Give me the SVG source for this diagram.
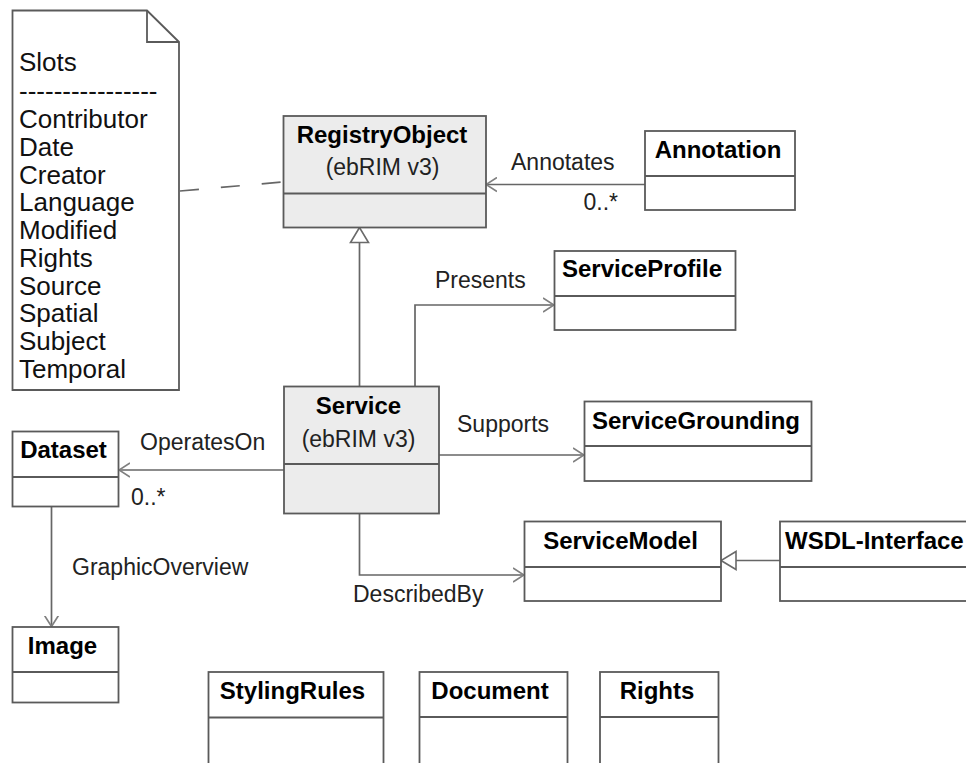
<svg xmlns="http://www.w3.org/2000/svg" width="966" height="763" viewBox="0 0 966 763">
<style>
.box{fill:#ffffff;stroke:#5a5a5a;stroke-width:1.8}
.gray{fill:#ececec}
.div{stroke:#5a5a5a;stroke-width:1.8}
.title{font-family:"Liberation Sans",Arial,sans-serif;font-weight:bold;font-size:24px;fill:#000;text-anchor:middle}
.sub{font-family:"Liberation Sans",Arial,sans-serif;font-size:23px;fill:#222;text-anchor:middle}
.lbl{font-family:"Liberation Sans",Arial,sans-serif;font-size:23px;fill:#222}
.note{font-family:"Liberation Sans",Arial,sans-serif;font-size:26px;fill:#111}
.conn{fill:none;stroke:#666;stroke-width:1.7}
</style>
<defs>
<marker id="open" markerUnits="userSpaceOnUse" viewBox="0 0 12 16" refX="11" refY="8" markerWidth="12" markerHeight="16" orient="auto">
<path d="M0,1 L11,8 L0,15" fill="none" stroke="#808080" stroke-width="1.7"/>
</marker>
<marker id="tri" markerUnits="userSpaceOnUse" viewBox="0 0 17 21" refX="16" refY="10.5" markerWidth="17" markerHeight="21" orient="auto">
<path d="M16,10.5 L1,1.5 L1,19.5 Z" fill="#ffffff" stroke="#6a6a6a" stroke-width="1.6"/>
</marker>
</defs>
<rect x="0" y="0" width="966" height="763" fill="#ffffff"/>

<g id="note-slots">
<path class="box" d="M12.5,10.5 L147,10.5 L179,42 L179,390 L12.5,390 Z"/>
<path d="M147,10.5 L147,42 L179,42" fill="none" stroke="#5a5a5a" stroke-width="1.8"/>
<text class="note" x="19" y="71">Slots</text>
<text class="note" x="19" y="99.5">----------------</text>
<text class="note" x="19" y="128">Contributor</text>
<text class="note" x="19" y="156">Date</text>
<text class="note" x="19" y="183.5">Creator</text>
<text class="note" x="19" y="211">Language</text>
<text class="note" x="19" y="239">Modified</text>
<text class="note" x="19" y="267">Rights</text>
<text class="note" x="19" y="294.5">Source</text>
<text class="note" x="19" y="322">Spatial</text>
<text class="note" x="19" y="350">Subject</text>
<text class="note" x="19" y="378">Temporal</text>
</g>

<g id="connectors">
<path class="conn" d="M180,191 L283,182" stroke="#888" stroke-dasharray="19 22"/>
<path class="conn" d="M645,184.5 L486,184.5" marker-end="url(#open)"/>
<path class="conn" d="M359.5,386 L359.5,227.5" marker-end="url(#tri)"/>
<path class="conn" d="M415,386 L415,305 L554,305" marker-end="url(#open)"/>
<path class="conn" d="M439,455 L584,455" marker-end="url(#open)"/>
<path class="conn" d="M284,470 L119,470" marker-end="url(#open)"/>
<path class="conn" d="M359.5,513.5 L359.5,575 L524,575" marker-end="url(#open)"/>
<path class="conn" d="M780,560.5 L721,560.5" marker-end="url(#tri)"/>
<path class="conn" d="M51.5,507 L51.5,626.5" marker-end="url(#open)"/>
<text class="lbl" x="511" y="170">Annotates</text>
<text class="lbl" x="583.5" y="210">0..*</text>
<text class="lbl" x="435" y="288">Presents</text>
<text class="lbl" x="457" y="432">Supports</text>
<text class="lbl" x="140" y="450">OperatesOn</text>
<text class="lbl" x="131" y="505">0..*</text>
<text class="lbl" x="72" y="575">GraphicOverview</text>
<text class="lbl" x="353" y="602">DescribedBy</text>
</g>

<g id="RegistryObject">
<rect class="box gray" x="283.5" y="116" width="202.5" height="111.5"/>
<line class="div" x1="283.5" y1="193.5" x2="486" y2="193.5"/>
<text class="title" x="382" y="143">RegistryObject</text>
<text class="sub" x="382.5" y="175">(ebRIM v3)</text>
</g>

<g id="Annotation">
<rect class="box" x="645" y="131" width="150" height="79"/>
<line class="div" x1="645" y1="176" x2="795" y2="176"/>
<text class="title" x="718" y="157.5">Annotation</text>
</g>

<g id="ServiceProfile">
<rect class="box" x="554.5" y="251" width="181" height="79"/>
<line class="div" x1="554.5" y1="296" x2="735.5" y2="296"/>
<text class="title" x="642" y="277">ServiceProfile</text>
</g>

<g id="Service">
<rect class="box gray" x="284" y="386.5" width="155" height="127"/>
<line class="div" x1="284" y1="464" x2="439" y2="464"/>
<text class="title" x="358.5" y="413.5">Service</text>
<text class="sub" x="358.5" y="447">(ebRIM v3)</text>
</g>

<g id="ServiceGrounding">
<rect class="box" x="584.5" y="401.5" width="227" height="79.5"/>
<line class="div" x1="584.5" y1="446" x2="811.5" y2="446"/>
<text class="title" x="696" y="428.5">ServiceGrounding</text>
</g>

<g id="Dataset">
<rect class="box" x="12.5" y="431.5" width="106" height="75"/>
<line class="div" x1="12.5" y1="477" x2="118.5" y2="477"/>
<text class="title" x="63.5" y="457.5">Dataset</text>
</g>

<g id="Image">
<rect class="box" x="12.5" y="627" width="106" height="75.5"/>
<line class="div" x1="12.5" y1="672" x2="118.5" y2="672"/>
<text class="title" x="62.5" y="653.5">Image</text>
</g>

<g id="ServiceModel">
<rect class="box" x="524.5" y="521.5" width="196.5" height="79.5"/>
<line class="div" x1="524.5" y1="567" x2="721" y2="567"/>
<text class="title" x="620.5" y="548.5">ServiceModel</text>
</g>

<g id="WSDL-Interface">
<rect class="box" x="780" y="521.5" width="200" height="79.5"/>
<line class="div" x1="780" y1="567" x2="980" y2="567"/>
<text class="title" x="785" y="548.5" style="text-anchor:start">WSDL-Interface</text>
</g>

<g id="StylingRules">
<rect class="box" x="208.5" y="672" width="175" height="110"/>
<line class="div" x1="208.5" y1="717.5" x2="383.5" y2="717.5"/>
<text class="title" x="292.5" y="698.5">StylingRules</text>
</g>

<g id="Document">
<rect class="box" x="419.5" y="672" width="148" height="110"/>
<line class="div" x1="419.5" y1="717" x2="567.5" y2="717"/>
<text class="title" x="490" y="698.5">Document</text>
</g>

<g id="Rights">
<rect class="box" x="600" y="672" width="118.5" height="110"/>
<line class="div" x1="600" y1="717" x2="718.5" y2="717"/>
<text class="title" x="657" y="698.5">Rights</text>
</g>
</svg>
